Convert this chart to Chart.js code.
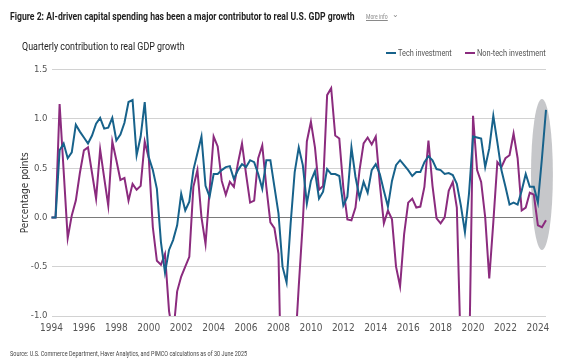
<!DOCTYPE html>
<html>
<head>
<meta charset="utf-8">
<script src="https://cdn.jsdelivr.net/npm/chart.js@4.4.1/dist/chart.umd.min.js"></script>
<style>
  html, body { margin: 0; padding: 0; background: #fff; }
  #marco { position: relative; width: 580px; height: 361px; overflow: hidden; font-family: Roboto, sans-serif; }
  #marco canvas { position: absolute; left: 0; top: 0; }
  .txt { position: absolute; white-space: nowrap; transform-origin: 0 50%; line-height: 1; }
  #titulo { left: 10px; top: 11px; font-size: 11px; font-weight: bold; color: #1e1e1e; }
  #masinfo { left: 366px; top: 14px; font-size: 6.5px; color: #8a8a8a; text-decoration: underline; }
  #flecha { left: 392px; top: 11px; font-size: 8px; color: #8a8a8a; }
  #subtitulo { left: 22px; top: 42px; font-size: 10px; color: #222; }
  .ley-linea { position: absolute; height: 2px; top: 52px; width: 10px; }
  .ley-txt { top: 48px; font-size: 9.5px; color: #555; }
  #fuente { left: 10px; top: 351px; font-size: 6.5px; color: #444; }
</style>
</head>
<body>
<div id="marco">
  <canvas id="grafico" width="580" height="361"></canvas>
  <div class="txt" id="titulo" data-ancho="345">Figure 2: AI-driven capital spending has been a major contributor to real U.S. GDP growth</div>
  <div class="txt" id="masinfo" data-ancho="22">More info</div>
  <div class="txt" id="flecha">&#8964;</div>
  <div class="txt" id="subtitulo" data-ancho="163">Quarterly contribution to real GDP growth</div>
  <div class="ley-linea" style="left:386px;background:#17628b"></div>
  <div class="txt ley-txt" style="left:398px" data-ancho="54">Tech investment</div>
  <div class="ley-linea" style="left:465px;background:#8b2b7e"></div>
  <div class="txt ley-txt" style="left:477px" data-ancho="69">Non-tech investment</div>
  <div class="txt" id="fuente" data-ancho="237">Source: U.S. Commerce Department, Haver Analytics, and PIMCO calculations as of 30 June 2025</div>
</div>
<script>
// trimestres desde 1994 T1
const anioInicio = 1994;
const totalTrimestres = 123;
const trimestres = [];
for (let i = 0; i < totalTrimestres; i++) {
    trimestres.push((anioInicio + Math.floor(i / 4)) + 'Q' + (i % 4 + 1));
}

const etiquetasAnios = ['1994', '1996', '1998', '2000', '2002', '2004', '2006', '2008', '2010',
    '2012', '2014', '2016', '2018', '2020', '2022', '2024'];
const ticksY = [-1.0, -0.5, 0.0, 0.5, 1.0, 1.5];

const inversionTech = [
    0, 0, 0.68, 0.75, 0.60, 0.66, 0.94, 0.87, 0.81, 0.75,
    0.83, 0.95, 1.01, 0.90, 0.91, 1.01, 0.78, 0.84, 0.96, 1.17,
    1.19, 0.63, 0.82, 1.17, 0.61, 0.48, 0.29, -0.25, -0.56, -0.33,
    -0.23, -0.08, 0.24, 0.07, 0.16, 0.48, 0.65, 0.82, 0.32, 0.21,
    0.44, 0.44, 0.48, 0.51, 0.52, 0.39, 0.48, 0.54, 0.51, 0.58,
    0.56, 0.44, 0.29, 0.58, 0.58, 0.31, 0.04, -0.50, -0.66, -0.06,
    0.46, 0.71, 0.53, 0.14, 0.37, 0.47, 0.19, 0.26, 0.49, 0.44,
    0.44, 0.42, 0.12, 0.21, 0.71, 0.41, 0.20, 0.36, 0.25, 0.48,
    0.54, 0.44, 0.27, 0.11, 0.37, 0.53, 0.58, 0.53, 0.48, 0.42,
    0.46, 0.46, 0.56, 0.62, 0.58, 0.49, 0.48, 0.44, 0.45, 0.43,
    0.34, 0.12, -0.15, 0.24, 0.82, 0.81, 0.80, 0.51, 0.70, 1.03,
    0.76, 0.48, 0.31, 0.13, 0.15, 0.13, 0.27, 0.44, 0.31, 0.31,
    0.15, 0.60, 1.09
];

const inversionNoTech = [
    0, 0, 1.15, 0.47, -0.21, 0.02, 0.17, 0.45, 0.68, 0.71,
    0.45, 0.19, 0.69, 0.40, 0.12, 0.77, 0.58, 0.38, 0.40, 0.17,
    0.34, 0.28, 0.32, 0.77, 0.60, -0.10, -0.44, -0.48, -0.37, -0.95,
    -1.20, -0.75, -0.60, -0.50, -0.40, 0.31, 0.48, 0.00, -0.27, 0.27,
    0.82, 0.72, 0.37, 0.23, 0.36, 0.31, 0.55, 0.75, 0.44, 0.15,
    0.17, 0.60, 0.73, 0.31, -0.05, -0.11, -0.37, -2.30, -2.50, -2.00,
    -1.40, -0.70, -0.05, 0.77, 0.97, 0.71, 0.28, 0.32, 1.24, 1.31,
    0.83, 0.80, 0.30, -0.02, -0.03, 0.10, 0.48, 0.75, 0.81, 0.74,
    0.82, 0.34, -0.06, 0.07, -0.02, -0.50, -0.70, -0.17, 0.15, 0.19,
    0.10, 0.11, 0.31, 0.78, 0.32, -0.01, -0.06, 0.00, 0.27, 0.36,
    0.10, -1.40, -2.50, -1.60, 1.03, 0.48, 0.36, 0.00, -0.62, -0.05,
    0.56, 0.51, 0.60, 0.63, 0.85, 0.60, 0.07, 0.10, 0.25, 0.23,
    -0.08, -0.10, -0.03
];

// ovalo gris sobre los ultimos trimestres
const resalte = {
    id: 'resalte',
    beforeDatasetsDraw(chart) {
        const { ctx, scales: { x, y } } = chart;
        const izq = x.getPixelForValue(118.3);
        const der = x.getPixelForValue(123.7);
        const arriba = y.getPixelForValue(1.2);
        const abajo = y.getPixelForValue(-0.33);
        ctx.save();
        ctx.fillStyle = '#c6c7ca';
        ctx.beginPath();
        ctx.ellipse((izq + der) / 2, (arriba + abajo) / 2, (der - izq) / 2, (abajo - arriba) / 2, 0, 0, Math.PI * 2);
        ctx.fill();
        ctx.restore();
    }
};

const fuenteEjes = "'Liberation Sans Narrow', 'DejaVu Sans Condensed', Roboto, sans-serif";

new Chart(document.querySelector('#grafico'), {
    type: 'line',
    data: {
        labels: trimestres,
        datasets: [{
            label: 'Tech investment',
            data: inversionTech,
            borderColor: '#17628b',
            borderWidth: 2,
            pointRadius: 0,
            tension: 0
        }, {
            label: 'Non-tech investment',
            data: inversionNoTech,
            borderColor: '#8b2b7e',
            borderWidth: 2,
            pointRadius: 0,
            tension: 0
        }]
    },
    options: {
        responsive: false,
        animation: false,
        layout: {
            padding: { left: 0, top: 69.5, right: 34, bottom: 0 }
        },
        plugins: {
            legend: { display: false },
            tooltip: { enabled: false }
        },
        scales: {
            x: {
                grid: { display: false, drawTicks: false },
                border: { display: false },
                ticks: {
                    autoSkip: false,
                    maxRotation: 0,
                    padding: 6,
                    color: '#555',
                    font: { family: fuenteEjes, size: 10 },
                    callback: function (valor, indice) {
                        const etiqueta = trimestres[indice];
                        const anio = etiqueta.slice(0, 4);
                        if (etiqueta.endsWith('Q1') && etiquetasAnios.includes(anio)) {
                            return anio;
                        }
                        return null;
                    }
                },
                afterFit: function (escala) { escala.height = 45; }
            },
            y: {
                min: -1,
                max: 1.5,
                afterBuildTicks: function (escala) {
                    escala.ticks = ticksY.map(v => ({ value: v }));
                },
                grid: {
                    drawTicks: false,
                    color: function (c) { return c.tick && c.tick.value === 0 ? '#7a7a7a' : '#d2d2d2'; }
                },
                border: { display: false },
                ticks: {
                    padding: 4,
                    color: '#555',
                    font: { family: fuenteEjes, size: 9.5 },
                    callback: function (valor) { return Number(valor).toFixed(1); }
                },
                title: {
                    display: true,
                    text: 'Percentage points',
                    color: '#333',
                    padding: { top: 19, bottom: 0 },
                    font: { family: fuenteEjes, size: 10 }
                },
                afterFit: function (escala) { escala.width = 51.5; }
            }
        }
    },
    plugins: [resalte]
});

// ajustar el ancho de los textos al original
document.querySelectorAll('[data-ancho]').forEach(function (el) {
    const ancho = parseFloat(el.dataset.ancho);
    el.style.transform = 'scaleX(' + (ancho / el.offsetWidth) + ')';
});
</script>
</body>
</html>
